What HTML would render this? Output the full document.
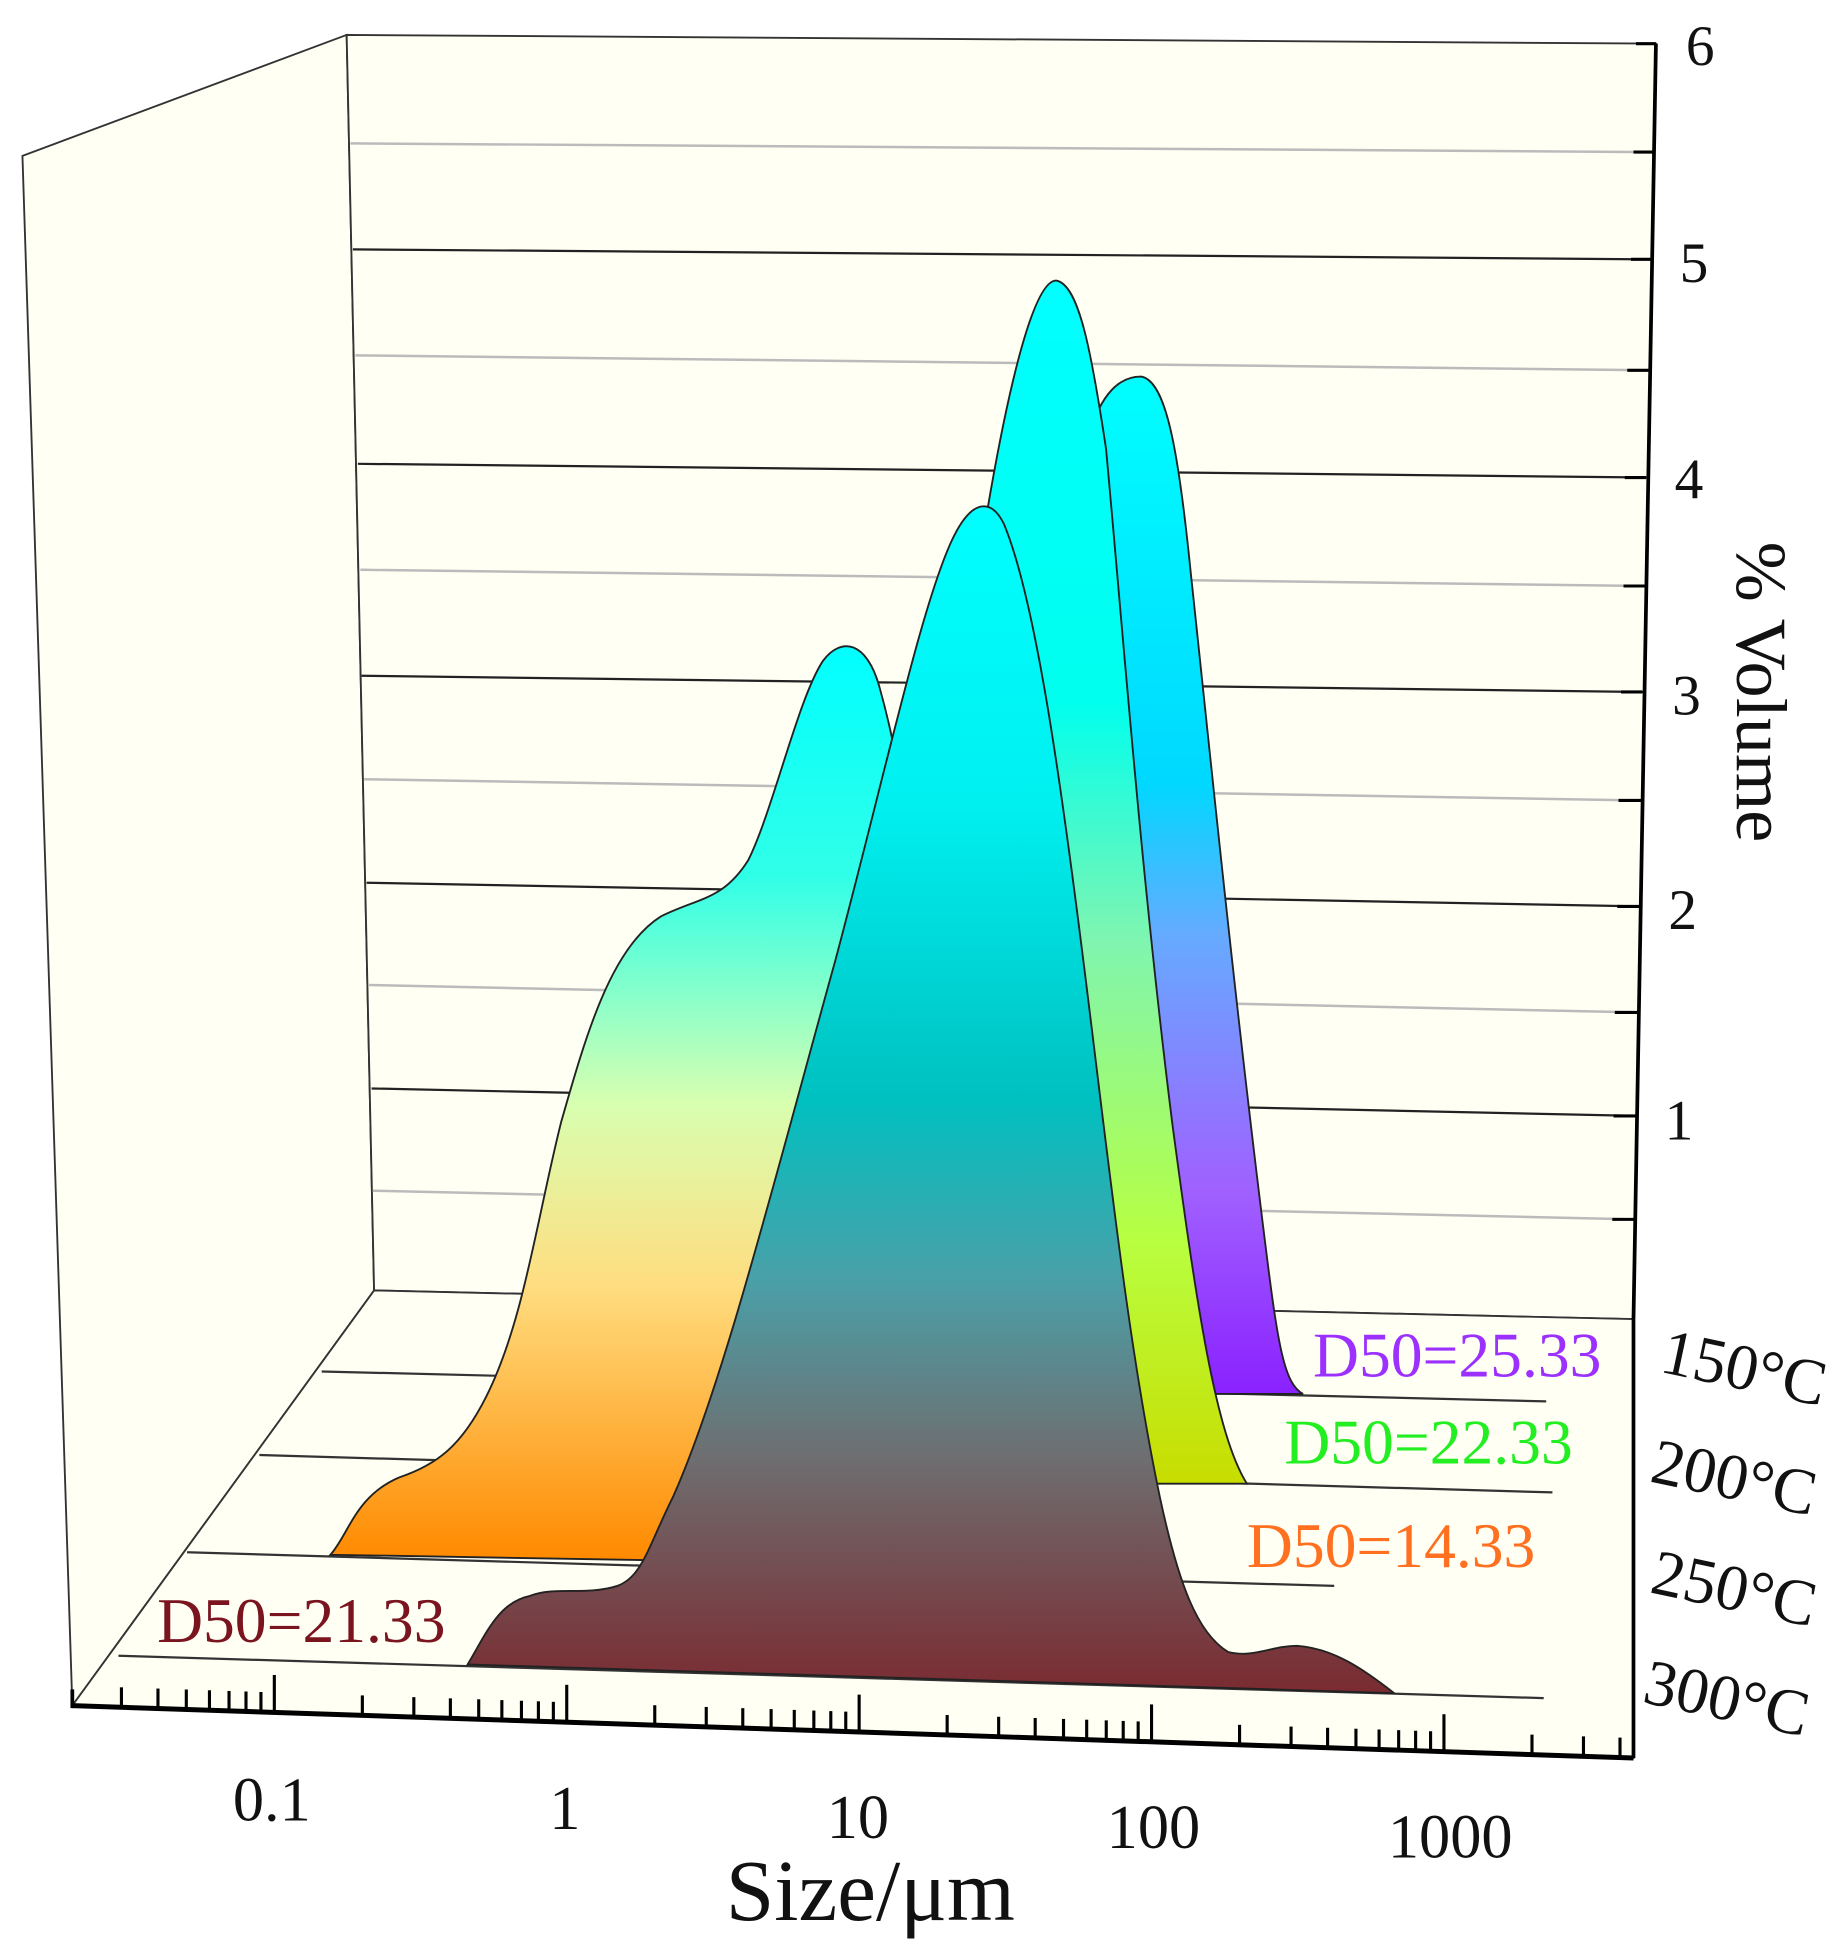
<!DOCTYPE html>
<html><head><meta charset="utf-8"><style>
html,body{margin:0;padding:0;background:#fff;}
svg{display:block;}
text{font-family:"Liberation Serif",serif;}
</style></head><body>
<svg width="1833" height="1950" viewBox="0 0 1470 1564" preserveAspectRatio="none" xmlns="http://www.w3.org/2000/svg">
<defs>
<linearGradient id="gP" x1="0" y1="300" x2="0" y2="1120" gradientUnits="userSpaceOnUse">
<stop offset="0" stop-color="#00ffff"/><stop offset="0.4" stop-color="#00d8ff"/><stop offset="0.55" stop-color="#66aaff"/><stop offset="0.8" stop-color="#a060ff"/><stop offset="1" stop-color="#8a20ff"/></linearGradient>
<linearGradient id="gG" x1="0" y1="225" x2="0" y2="1190" gradientUnits="userSpaceOnUse">
<stop offset="0" stop-color="#00ffff"/><stop offset="0.35" stop-color="#00ffee"/><stop offset="0.55" stop-color="#80f5b0"/><stop offset="0.8" stop-color="#b8ff40"/><stop offset="1" stop-color="#c8dd00"/></linearGradient>
<linearGradient id="gO" x1="0" y1="520" x2="0" y2="1250" gradientUnits="userSpaceOnUse">
<stop offset="0" stop-color="#00ffff"/><stop offset="0.25" stop-color="#30ffe8"/><stop offset="0.5" stop-color="#d8ffb0"/><stop offset="0.7" stop-color="#ffdd80"/><stop offset="1" stop-color="#ff8a00"/></linearGradient>
<linearGradient id="gM" x1="0" y1="405" x2="0" y2="1360" gradientUnits="userSpaceOnUse">
<stop offset="0" stop-color="#00ffff"/><stop offset="0.25" stop-color="#00f0f0"/><stop offset="0.5" stop-color="#00c0c0"/><stop offset="0.65" stop-color="#4aa0a8"/><stop offset="0.8" stop-color="#6e6e70"/><stop offset="1" stop-color="#7a2a30"/></linearGradient>
</defs>
<polygon points="18,125 278,28 300,1035 58,1368" fill="#fffff4" stroke="#333" stroke-width="1.5"/>
<polygon points="278,28 1328,35 1310,1058 300,1035" fill="#fffff4" stroke="#333" stroke-width="1.5"/>
<polygon points="300,1035 1310,1058 1310,1410 58,1368" fill="#fffff4" stroke="#333" stroke-width="1.5"/>
<g stroke="#bbb" stroke-width="2">
<line x1="281" y1="115" x2="1326" y2="122"/><line x1="285" y1="285" x2="1322" y2="297"/>
<line x1="289" y1="457" x2="1319" y2="470"/><line x1="292" y1="625" x2="1316" y2="642"/>
<line x1="296" y1="790" x2="1313" y2="812"/><line x1="299" y1="955" x2="1311" y2="978"/>
</g>
<g stroke="#222" stroke-width="1.8">
<line x1="283" y1="200" x2="1324" y2="208"/><line x1="287" y1="372" x2="1321" y2="383"/>
<line x1="290" y1="542" x2="1318" y2="555"/><line x1="294" y1="708" x2="1315" y2="727"/>
<line x1="298" y1="873" x2="1312" y2="895"/>
</g>
<g stroke="#333" stroke-width="1.8" fill="none">
<line x1="258" y1="1100" x2="1240" y2="1124"/>
<line x1="208" y1="1167" x2="1245" y2="1197"/>
<line x1="150" y1="1245" x2="1070" y2="1272"/>
<line x1="95" y1="1328" x2="1238" y2="1362"/>
</g>
<path d="M870,360 C880,320 895,302 915,302 C935,305 945,360 955,460 C970,600 990,800 1015,1000 C1025,1080 1030,1110 1045,1118 L880,1118 Z" fill="url(#gP)" stroke="#222" stroke-width="1.5"/>
<path d="M790,420 C810,300 830,225 847,225 C865,228 875,280 887,360 C900,500 915,700 940,900 C960,1050 975,1150 1000,1190 L790,1190 Z" fill="url(#gG)" stroke="#222" stroke-width="1.5"/>
<path d="M265,1247 C280,1230 285,1200 320,1185 C350,1175 370,1160 390,1120 C420,1060 430,980 450,900 C470,830 490,760 530,735 C560,720 580,722 600,690 C620,650 640,560 660,530 C675,510 695,515 705,550 C712,575 718,600 722,630 L560,1252 Z" fill="url(#gO)" stroke="#222" stroke-width="1.5"/>
<path d="M375,1335 C390,1310 400,1285 425,1280 C445,1272 470,1280 495,1272 C515,1265 520,1240 540,1200 C580,1110 620,950 670,770 C710,620 740,480 765,430 C780,400 795,400 805,420 C830,480 850,620 870,780 C890,940 905,1080 930,1200 C945,1270 960,1310 985,1325 C1005,1330 1020,1320 1040,1320 C1070,1322 1095,1340 1118,1358 Z" fill="url(#gM)" stroke="#222" stroke-width="1.5"/>
<line x1="58" y1="1368" x2="1310" y2="1410" stroke="#000" stroke-width="4"/>
<line x1="1310" y1="1058" x2="1310" y2="1410" stroke="#000" stroke-width="3"/>
<line x1="1328" y1="35" x2="1310" y2="1058" stroke="#000" stroke-width="3"/>
<line x1="58" y1="1355" x2="58" y2="1370" stroke="#000" stroke-width="3"/>
<g stroke="#000" stroke-width="2.5">
<line x1="1312" y1="35" x2="1328" y2="35"/><line x1="1310" y1="122" x2="1326" y2="122"/>
<line x1="1308" y1="208" x2="1324" y2="208"/><line x1="1305" y1="297" x2="1322" y2="297"/>
<line x1="1303" y1="383" x2="1320" y2="383"/><line x1="1302" y1="470" x2="1319" y2="470"/>
<line x1="1300" y1="555" x2="1317" y2="555"/><line x1="1298" y1="642" x2="1316" y2="642"/>
<line x1="1297" y1="727" x2="1315" y2="727"/><line x1="1295" y1="812" x2="1313" y2="812"/>
<line x1="1294" y1="895" x2="1312" y2="895"/><line x1="1293" y1="978" x2="1311" y2="978"/>
</g>
<g stroke="#000" stroke-width="2.5" id="ticks"></g>
<script>
(function(){var g=document.getElementById('ticks');var ns='http://www.w3.org/2000/svg';
var x0=220,dec=234.5;function yy(x){return 1368+(x-58)*42/1252;}
for(var d=-2;d<5;d++){for(var m=1;m<10;m++){var x=x0+(d+1)*dec+Math.log10(m)*dec;if(x<60||x>1305)continue;
var L=m==1?30:16;var y=yy(x);var l=document.createElementNS(ns,'line');l.setAttribute('x1',x);l.setAttribute('x2',x);l.setAttribute('y1',y);l.setAttribute('y2',y-L);g.appendChild(l);}}})();
</script>
<g font-size="46" fill="#111">
<text x="1352" y="52">6</text><text x="1347" y="226">5</text><text x="1343" y="400">4</text>
<text x="1341" y="573">3</text><text x="1338" y="745">2</text><text x="1335" y="914">1</text>
</g>
<text transform="translate(1393,555) rotate(90)" font-size="58" text-anchor="middle" fill="#111">% Volume</text>
<g font-size="50" fill="#111" text-anchor="middle">
<text x="218" y="1460">0.1</text><text x="453" y="1467">1</text><text x="688" y="1474">10</text>
<text x="925" y="1482">100</text><text x="1163" y="1490">1000</text>
</g>
<text x="698" y="1540" font-size="70" text-anchor="middle" fill="#111">Size/μm</text>
<g font-size="52" fill="#111">
<text transform="translate(1330,1100) rotate(12)">150°C</text>
<text transform="translate(1322,1188) rotate(12)">200°C</text>
<text transform="translate(1322,1277) rotate(12)">250°C</text>
<text transform="translate(1316,1365) rotate(12)">300°C</text>
</g>
<g font-size="51">
<text x="1053" y="1104" fill="#9b30ff">D50=25.33</text>
<text x="1030" y="1174" fill="#22ee22">D50=22.33</text>
<text x="1000" y="1257" fill="#ff7020">D50=14.33</text>
<text x="126" y="1317" fill="#7a1520">D50=21.33</text>
</g>
</svg>
</body></html>
